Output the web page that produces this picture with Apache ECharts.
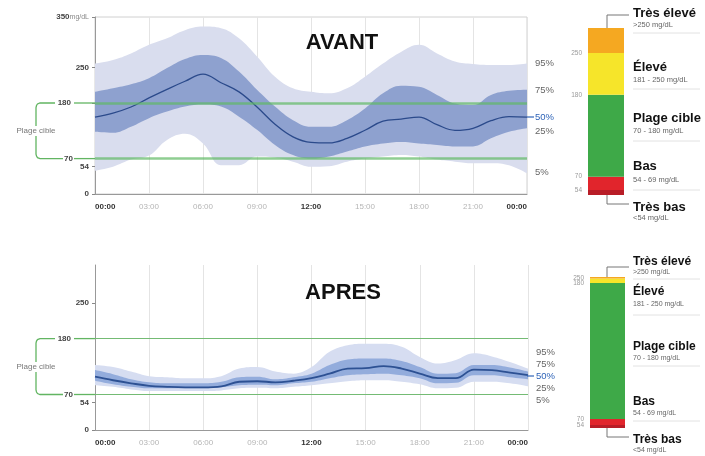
<!DOCTYPE html>
<html><head><meta charset="utf-8">
<script src="https://cdn.jsdelivr.net/npm/echarts@6/dist/echarts.min.js"></script>
<style>html,body{margin:0;padding:0;background:#fff}#c{width:705px;height:456px}</style>
</head><body><div id="c"></div>
<script>
// ---------- DATA ----------
const hourCategories = ['00','01','02','03','04','05','06','07','08','09','10','11','12','13','14','15','16','17','18','19','20','21','22','23','24'];
const xTickLabels = ['00:00','03:00','06:00','09:00','12:00','15:00','18:00','21:00','00:00'];
const yTicksTop = [0,54,70,180,250,350];
const yTicksBottom = [0,54,70,180,250];
const targetRange = [70,180];

const avantP5  = [46,54,68,76,107,119,100,57,57,74,72,64,54,55,64,70,74,77,74,68,64,61,61,57,41];
const avantP25 = [123,121,133,150,163,173,177,173,153,127,97,77,70,74,84,94,100,103,100,97,94,94,110,123,130];
const avantP50 = [152,160,172,190,207,223,237,220,202,172,138,113,102,101,110,126,144,148,152,137,126,130,145,153,152];
const avantP75 = [202,209,217,229,249,267,275,269,242,206,173,146,133,133,146,169,199,214,212,196,179,176,196,204,206];
const avantP95 = [258,265,278,295,308,324,331,328,308,272,232,209,202,199,209,232,258,281,295,278,262,257,255,255,258];

const apresP5  = [88,85,80,77,77,77,77,78,82,83,82,85,88,92,96,98,98,95,90,82,83,95,95,92,86];
const apresP25 = [97,90,85,82,82,82,82,84,88,89,88,92,95,102,108,110,111,108,102,92,93,108,108,104,100];
const apresP50 = [105,98,92,87,85,84,84,86,95,96,94,97,102,111,121,122,126,121,111,102,102,119,118,113,108];
const apresP75 = [118,110,100,94,92,92,92,95,104,105,100,104,111,128,139,141,141,136,124,111,112,128,128,123,115];
const apresP95 = [128,124,115,106,104,102,102,106,121,124,115,111,124,154,167,170,170,164,144,131,138,151,145,134,121];

const percentileLabels = ['95%','75%','50%','25%','5%'];

const rangeNames = ['Très bas','Bas','Plage cible','Élevé','Très élevé'];
const rangeSubLabels = ['<54 mg/dL','54 - 69 mg/dL','70 - 180 mg/dL','181 - 250 mg/dL','>250 mg/dL'];
const rangeBoundLabels = ['54','70','180','250'];
const avantRangePct = [3,8,49,25,15];
const apresRangePct = [2,4,90,3,1];

// ---------- STYLE ----------
const FONT = 'Liberation Sans, Arial, sans-serif';
const rangeColors = ['#b81d27','#e1252c','#3ea948','#f6e52a','#f5a821'];

function diff(a,b){return a.map((v,i)=>v-b[i]);}

function xAxisCfg(gi){
  return {
    type:'category', gridIndex:gi, data:hourCategories, boundaryGap:false,
    axisLine:{show:true,lineStyle:{color:'#999',width:1}},
    axisTick:{show:false},
    splitLine:{show:true,interval:2,lineStyle:{color:'#e4e4e4',width:1}},
    axisLabel:{interval:2, margin:9, fontFamily:FONT, alignMinLabel:'left', alignMaxLabel:'right',
      formatter:(v,idx)=>{const k=Math.round(idx/3);const t=xTickLabels[k];return (k%4===0)?'{b|'+t+'}':'{l|'+t+'}';},
      rich:{b:{fontSize:8,fontWeight:'bold',color:'#333',fontFamily:FONT},l:{fontSize:8,color:'#b5b5b5',fontFamily:FONT}}}
  };
}
function yAxisCfg(gi,max,ticks,showUnit){
  return {
    type:'value', gridIndex:gi, min:0, max:max,
    axisLine:{show:true,lineStyle:{color:'#999',width:1}},
    axisTick:{show:true,length:3,customValues:ticks,lineStyle:{color:'#888'}},
    splitLine:{show:false},
    axisLabel:{customValues:ticks, margin:6, fontFamily:FONT,
      formatter:(v)=>{
        if(v===350 && showUnit) return '{b|350}{u|mg/dL}';
        if(v===targetRange[1]) return '{g|'+v+'}';
        if(v===targetRange[0]) return '{h|'+v+'}';
        return '{b|'+v+'}';
      },
      rich:{
        b:{fontSize:8,fontWeight:'bold',color:'#444',fontFamily:FONT},
        u:{fontSize:7,color:'#888',fontFamily:FONT},
        g:{fontSize:8,fontWeight:'bold',color:'#444',fontFamily:FONT,padding:[0,18,0,0]},
        h:{fontSize:8,fontWeight:'bold',color:'#444',fontFamily:FONT,padding:[0,16,0,0]}
      }}
  };
}

function bandSeries(gi, p5,p25,p50,p75,p95, light, dark, med, medW, greenStyle, prefix){
  const base = {type:'line', xAxisIndex:gi, yAxisIndex:gi, smooth:0.4, symbol:'none', silent:true};
  return [
    Object.assign({},base,{name:prefix+'b5',stack:prefix+'o',data:p5,lineStyle:{width:0,opacity:0}}),
    Object.assign({},base,{name:prefix+'o',stack:prefix+'o',data:diff(p95,p5),lineStyle:{width:0,opacity:0},areaStyle:{color:light,opacity:1}}),
    Object.assign({},base,{name:prefix+'b25',stack:prefix+'i',data:p25,lineStyle:{width:0,opacity:0}}),
    Object.assign({},base,{name:prefix+'i',stack:prefix+'i',data:diff(p75,p25),lineStyle:{width:0,opacity:0},areaStyle:{color:dark,opacity:1}}),
    Object.assign({},base,{name:prefix+'m',data:p50,lineStyle:{color:med,width:medW},z:4,
      markLine:{silent:true,symbol:'none',label:{show:false},lineStyle:greenStyle,
        data:[{yAxis:targetRange[1]},{yAxis:targetRange[0]}]}})
  ];
}

function rangeBars(gi, pct, prefix){
  return pct.map((v,i)=>({
    type:'bar', name:prefix+rangeNames[i], stack:prefix, xAxisIndex:gi, yAxisIndex:gi,
    barWidth:'100%', data:[v], silent:true, itemStyle:{color:rangeColors[i]},
    label: i<4 ? {show:true, position:[-6,0], align:'right', verticalAlign:'middle',
      formatter:rangeBoundLabels[i], fontSize:6.5, color:'#9a9a9a', fontFamily:FONT} : {show:false}
  }));
}

// ---------- GRAPHICS ----------
const G = [];
function txt(x,y,s,size,color,weight,align,extra){
  G.push({type:'text',x:x,y:y,silent:true,z:100,style:Object.assign({text:s,fontSize:size,fill:color,fontWeight:weight||'normal',fontFamily:FONT,align:align||'left',verticalAlign:'middle'},extra||{})});
}
function line(x1,y1,x2,y2,color,w){
  G.push({type:'line',silent:true,z:99,shape:{x1:x1,y1:y1,x2:x2,y2:y2},style:{stroke:color,lineWidth:w}});
}
function bracket(yTop,yBot,labelY){
  const green='#62b562';
  G.push({type:'polyline',silent:true,z:99,shape:{points:[
    [55,yTop],[40,yTop],[37.5,yTop+1],[36.5,yTop+2.5],[36,yTop+4.5],
    [36,yBot-4.5],[36.5,yBot-2.5],[37.5,yBot-1],[40,yBot],[63,yBot]]},
    style:{stroke:green,lineWidth:1.3,fill:null}});
  line(74,yTop,95,yTop,green,1.3);
  line(74,yBot,95,yBot,green,1.3);
  txt(36,labelY,'Plage cible',8,'#777','normal','center',{backgroundColor:'#fff',padding:[1,0]});
}
function pctLabels(x,ys,dashY){
  ys.forEach((y,i)=>txt(x,y,percentileLabels[i],9.5,i===2?'#2f64b8':'#666','normal','left'));
  line(527,dashY,534,dashY,'#2f64b8',1.2);
}
function rangePanel(tops, size, subSize, bracketTop, bracketBot){
  line(607,bracketTop[0],607,bracketTop[1],'#777',1);
  line(607,bracketTop[1],629,bracketTop[1],'#777',1);
  line(607,bracketBot[0],607,bracketBot[1],'#777',1);
  line(607,bracketBot[1],629,bracketBot[1],'#777',1);
  for(let i=4;i>=0;i--){
    const p = tops[4-i];
    txt(633,p[0],rangeNames[i],size,'#111','bold','left');
    txt(633,p[1],rangeSubLabels[i],subSize,'#666','normal','left');
    if(p[2]) line(633,p[2],700,p[2],'#e2e2e2',1);
  }
}

// top chart decorations
bracket(103,158.6,131);
pctLabels(535,[63,90,117,131,172],117);
txt(342,43,'AVANT',22,'#111','bold','center');
rangePanel([[13,25,33],[67,80,89],[118,131,141],[166,180,190],[207,218,0]],13,7.5,[28,15],[195,204]);

// bottom chart decorations
bracket(338.6,394.5,367);
pctLabels(536,[352,364,376,388,400],376);
txt(343,293,'APRES',22,'#111','bold','center');
rangePanel([[262,272,279],[292,304,315],[347,358,366],[402,413,421],[440,450,0]],12,7,[277,267],[428,437]);

// ---------- CHART ----------
const chart = echarts.init(document.getElementById('c'));
const option = {
  animation:false,
  backgroundColor:'#fff',
  grid:[
    {left:95,right:178,top:17,bottom:262,show:true,borderColor:'#d0d0d0',borderWidth:1},
    {left:95,right:177,top:265,bottom:26},
    {left:588,width:36,top:28,height:167},
    {left:590,width:35,top:277,height:151}
  ],
  xAxis:[
    xAxisCfg(0), xAxisCfg(1),
    {type:'category',gridIndex:2,data:['r'],show:false,boundaryGap:true},
    {type:'category',gridIndex:3,data:['r'],show:false,boundaryGap:true}
  ],
  yAxis:[
    yAxisCfg(0,350,yTicksTop,true),
    yAxisCfg(1,325,yTicksBottom,false),
    {type:'value',gridIndex:2,min:0,max:100,show:false},
    {type:'value',gridIndex:3,min:0,max:100,show:false}
  ],
  series:[].concat(
    bandSeries(0,avantP5,avantP25,avantP50,avantP75,avantP95,'#d9ddee','#8ea1cf','#2b4a8b',1.3,
      {color:'rgba(95,185,100,0.7)',width:2.5,type:'solid'},'a'),
    bandSeries(1,apresP5,apresP25,apresP50,apresP75,apresP95,'#d6ddf1','#93acdc','#2d5193',1.8,
      {color:'#74bb74',width:1.2,type:'solid'},'p'),
    rangeBars(2,avantRangePct,'ra'),
    rangeBars(3,apresRangePct,'rp')
  ),
  graphic:G
};
chart.setOption(option);
</script>
</body></html>
